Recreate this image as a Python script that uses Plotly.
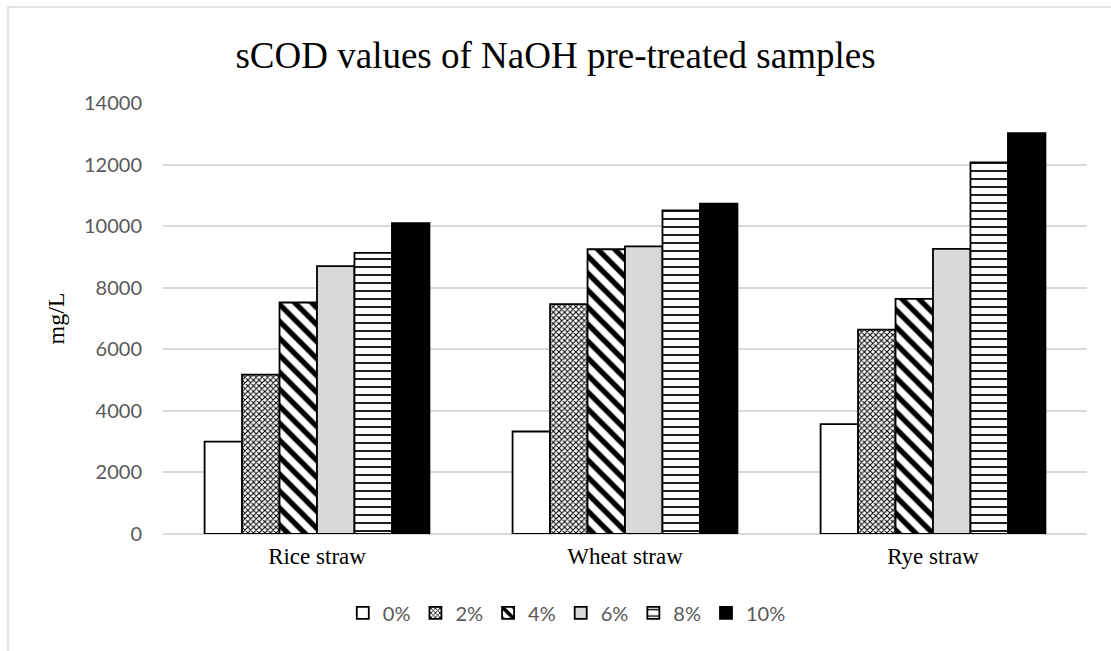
import plotly.graph_objects as go

categories = ["Rice straw", "Wheat straw", "Rye straw"]
series_names = ["0%", "2%", "4%", "6%", "8%", "10%"]
values = {
    "0%": [3000, 3330, 3570],
    "2%": [5180, 7470, 6640],
    "4%": [7520, 9250, 7640],
    "6%": [8700, 9340, 9260],
    "8%": [9130, 10510, 12070],
    "10%": [10100, 10730, 13020],
}

styles = {
    "0%": dict(color="white", pattern=dict(shape="")),
    "2%": dict(color="white", pattern=dict(shape="x", size=4, solidity=0.45, fgcolor="black",
                                          bgcolor="white", fgopacity=1)),
    "4%": dict(color="white", pattern=dict(shape="\\", size=12, solidity=0.45, fgcolor="black",
                                          bgcolor="white", fgopacity=1)),
    "6%": dict(color="#d9d9d9", pattern=dict(shape="")),
    "8%": dict(color="white", pattern=dict(shape="-", size=8, solidity=0.22, fgcolor="black",
                                          bgcolor="white", fgopacity=1)),
    "10%": dict(color="black", pattern=dict(shape="")),
}

fig = go.Figure()
for name in series_names:
    st = styles[name]
    fig.add_trace(go.Bar(
        x=categories, y=values[name], name=name,
        marker=dict(color=st["color"], pattern=st["pattern"],
                    line=dict(color="black", width=1.8)),
    ))

fig.update_layout(
    width=1111, height=651,
    barmode="group", bargap=0.27, bargroupgap=0,
    plot_bgcolor="white", paper_bgcolor="white",
    margin=dict(l=163, r=24, t=103, b=117),
    title=dict(text="sCOD values of NaOH pre-treated samples",
               font=dict(family="Liberation Serif", size=37, color="black"),
               x=0.5, xanchor="center", y=0.915, yanchor="middle"),
    xaxis=dict(showgrid=False, showline=False, ticks="",
               tickfont=dict(family="Liberation Serif", size=23, color="black"),
               ticklabelstandoff=6),
    yaxis=dict(range=[0, 14000], dtick=2000, showgrid=True, gridcolor="#d9d9d9",
               gridwidth=1.5, zeroline=True, zerolinecolor="#d9d9d9", zerolinewidth=1.5,
               showline=False, ticks="", tickformat="d",
               tickfont=dict(family="Lato", size=20, color="#595959"),
               ticklabelstandoff=20,
               title=dict(text="mg/L", font=dict(family="Liberation Serif", size=24, color="black"),
                          standoff=12)),
    legend=dict(orientation="h", x=0.437, xanchor="center", y=-0.183, yanchor="middle",
                font=dict(family="Lato", size=20, color="#595959"),
                itemwidth=30, traceorder="normal"),
    showlegend=True,
    shapes=[dict(type="rect", xref="paper", yref="paper",
                 x0=(8 - 163) / 924, x1=1.2, y0=-0.6, y1=(534 - 7) / 431,
                 line=dict(color="#d9d9d9", width=1.5), fillcolor="rgba(0,0,0,0)", layer="below")],
)

fig.write_html("out.html")
